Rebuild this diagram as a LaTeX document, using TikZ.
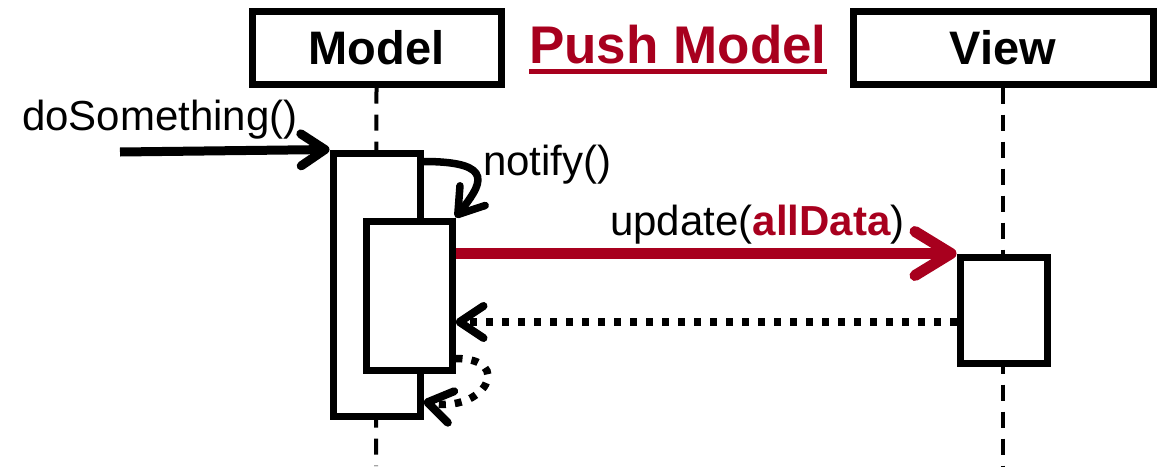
\documentclass[tikz,border=0pt]{standalone}
\usepackage{fontspec}
\setmainfont{Liberation Sans}
\usetikzlibrary{arrows.meta}
\definecolor{pushred}{RGB}{168,0,30}
\tikzset{
  hdr/.style={draw, line width=7pt, fill=white, inner sep=0pt,
    font=\fontsize{47}{56}\selectfont\bfseries},
  lifeline/.style={line width=4pt, dash pattern=on 16pt off 11pt},
  act/.style={draw, line width=7pt, fill=white, inner sep=0pt},
  lbl/.style={inner sep=0pt, anchor=base west, font=\fontsize{42}{50}\selectfont},
  msg/.style={line width=#1, -{Straight Barb[length=24pt,width=32pt,line width=#1,round]}},
  msg/.default=7.5pt,
  redmsg/.style={line width=11pt, pushred, -{Straight Barb[length=36pt,width=44pt,line width=11pt,round]}},
  ret/.style={line width=7.5pt, dash pattern=on 7pt off 9pt,
    -{Straight Barb[length=24pt,width=32pt,line width=8pt,round,sep=0pt]}},
}
\begin{document}
\begin{tikzpicture}[x=1pt,y=-1pt]
\useasboundingbox (0,0) rectangle (1169,466);

% lifeline heads
\node[hdr, minimum width=249pt, minimum height=73pt] (model) at (376.5,47.5) {Model};
\node[hdr, minimum width=300pt, minimum height=73pt] (view) at (1003,47.5) {View};

% title
\node[inner sep=0pt, anchor=base west, text=pushred,
  font=\fontsize{53}{62}\selectfont\bfseries] (title) at (529,63) {Push Model};
\draw[pushred, line width=5pt] ([yshift=-8pt]title.base west) -- ([yshift=-8pt]title.base east);

% lifelines
\coordinate (mEnd) at (376,466);
\coordinate (vEnd) at (1003,466);
\draw[lifeline] (model.south) -- (mEnd);
\draw[lifeline] (view.south) -- (vEnd);

% activation bars
\node[act, minimum width=87pt, minimum height=263pt] (outer) at (376.5,284.5) {};
\node[act, minimum width=86pt, minimum height=149pt] (inner) at (409,295.5) {};
\node[act, minimum width=87pt, minimum height=106pt] (vact) at (1003.5,310) {};

% incoming call
\coordinate (start) at (120,152);
\draw[msg=9pt] (start) -- (outer.north west);
\node[lbl] (lds) at (22,130) {doSomething()};

% self call
\draw[msg] ([yshift=-12pt]outer.north east) .. controls +(75,0) and +(25,-32) .. (inner.north east);
\node[lbl] (lnotify) at (483,175) {notify()};

% push message
\draw[redmsg] (inner.east |- vact.north west) -- (vact.north west);
\node[lbl] (lupdate) at (610,235) {update(\textcolor{pushred}{\bfseries allData})};

% returns
\coordinate (r1) at ([yshift=-12pt]vact.west);
\draw[ret] (r1) -- (r1 -| inner.east);
\draw[ret] ([yshift=15pt]inner.south east) .. controls +(60,0) and +(60,12) .. ([yshift=18pt]outer.south east);
\end{tikzpicture}
\end{document}
